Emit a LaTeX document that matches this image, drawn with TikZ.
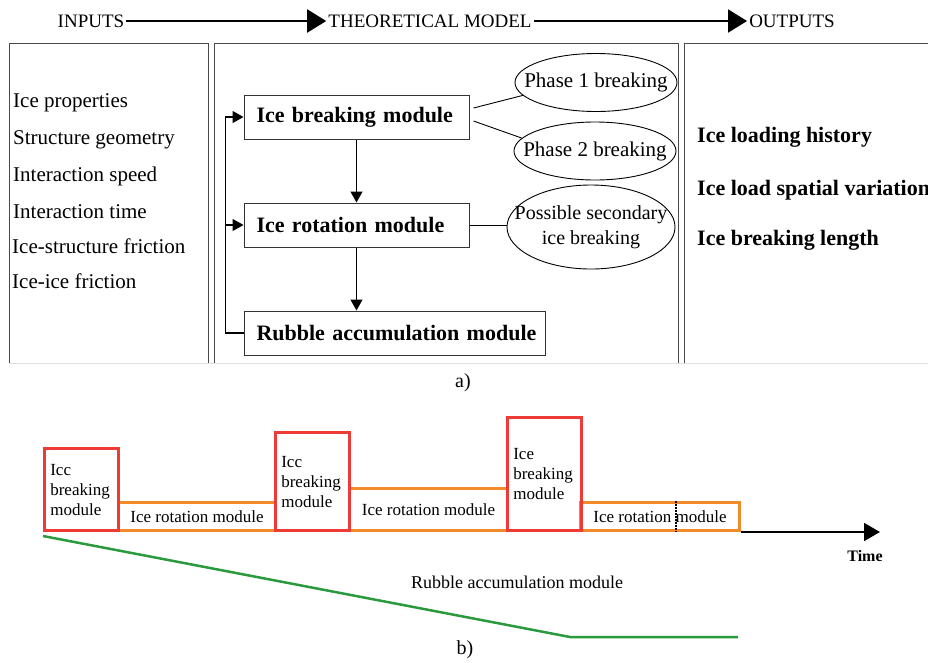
\documentclass[tikz,border=0pt]{standalone}
\usepackage{fontspec}
\setmainfont{Liberation Serif}
\usetikzlibrary{arrows.meta,shapes.geometric,calc}
\definecolor{brkred}{HTML}{EE3B36}
\definecolor{rotorange}{HTML}{F28A2A}
\definecolor{rubgreen}{HTML}{2A9A3C}
\definecolor{panelgray}{HTML}{4A4A4A}
% text of zero width, so that an ellipse is sized by its own dimensions
\newcommand\narrowtext[1]{\makebox[0pt]{#1}}

\begin{document}
\begin{tikzpicture}[x=1pt,y=-1pt,
  hdr/.style={font=\fontsize{19}{22}\selectfont, inner xsep=2pt, inner ysep=0pt},
  hdrarrow/.style={line width=2pt, -{Triangle[length=19pt,width=23pt]}},
  panel/.style={draw=panelgray, line width=1pt},
  inlabel/.style={anchor=west, inner sep=0pt, font=\fontsize{21}{24}\selectfont},
  outlabel/.style={anchor=west, inner sep=0pt, font=\fontsize{22}{25}\selectfont\bfseries},
  modbox/.style={draw=black!80, line width=1pt, minimum height=44pt, inner xsep=12.5pt,
    align=left, font=\fontsize{22}{25}\selectfont\bfseries},
  phase/.style={draw, ellipse, line width=0.9pt, inner sep=0pt,
    font=\fontsize{21}{25}\selectfont},
  flow/.style={line width=1.2pt, -{Triangle[length=11pt,width=12pt]}},
  link/.style={line width=0.9pt},
  brk/.style={draw=brkred, line width=2.6pt, inner xsep=6pt, text width=62pt,
    minimum width=74pt, align=left, anchor=south west,
    font=\fontsize{17}{20}\selectfont},
  rot/.style={draw=rotorange, line width=3pt, inner ysep=2pt, anchor=south west,
    font=\fontsize{17}{20}\selectfont},
  axis/.style={line width=1.8pt, -{Triangle[length=16pt,width=18pt]}},
  caption/.style={font=\fontsize{20}{24}\selectfont},
]
\useasboundingbox (0,0) rectangle (928,662);

% ---- header: inputs -> model -> outputs
\node[hdr] (hin)  at (91,21)  {INPUTS};
\node[hdr] (hmod) at (430,21) {THEORETICAL MODEL};
\node[hdr] (hout) at (792,21) {OUTPUTS};
\draw[hdrarrow] (hin) -- (hmod);
\draw[hdrarrow] (hmod) -- (hout);

% ---- three panels, open at the bottom
\draw[panel] (9,363) -- (9,43) -- (208,43) -- (208,363);
\draw[panel] (214,363) -- (214,43) -- (678,43) -- (678,363);
\draw[panel] (684,363) -- (684,43) -- (935,43);
\draw[black!12, line width=0.8pt] (9,363) -- (928,363);

% ---- inputs
\node[inlabel] (i1) at (13,103) {Ice properties};
\node[inlabel] (i2) at (13,140) {Structure geometry};
\node[inlabel] (i3) at (13,176) {Interaction speed};
\node[inlabel] (i4) at (13,212) {Interaction time};
\node[inlabel] (i5) at (12,246) {Ice-structure friction};
\node[inlabel] (i6) at (12,281) {Ice-ice friction};

% ---- theoretical model
\node[modbox, text width=200pt] (b1) at (356.5,117) {Ice breaking module};
\node[modbox, text width=200pt] (b2) at (356.5,225) {Ice rotation module};
\node[modbox, text width=276pt] (b3) at (394.5,333) {\mbox{Rubble accumulation module}};

\node[phase, minimum width=162pt, minimum height=58pt] (e1) at (596,82.5)
  {\narrowtext{Phase 1 breaking}};
\node[phase, minimum width=162pt, minimum height=58pt] (e2) at (595,151)
  {\narrowtext{Phase 2 breaking}};
\node[phase, minimum width=168pt, minimum height=84pt, font=\fontsize{20}{25}\selectfont]
  (e3) at (591,227)
  {\narrowtext{\begin{tabular}{@{}c@{}}Possible secondary\\ice breaking\end{tabular}}};

\draw[flow] (b1) -- (b2);
\draw[flow] (b2.south) -- (b2.south |- b3.north);
\draw[flow] (b3.west) -- ++(-18,0) coordinate (fb) |- (b1.west);
\draw[flow] (fb |- b2.west) -- (b2.west);

\draw[link] ([shift={(4,-9)}]b1.east) -- (e1.190);
\draw[link] ([shift={(4,4)}]b1.east) -- (e2.170);
\draw[link] (b2.east) -- (b2.east -| e3.west);

% ---- outputs
\node[outlabel] (o1) at (697,137) {Ice loading history};
\node[outlabel] (o2) at (697,190) {Ice load spatial variation};
\node[outlabel] (o3) at (697,240) {Ice breaking length};

\node[caption] (capa) at (463,383) {a)};

% ---- time sequence of the modules
\node[rot, minimum width=157pt, minimum height=28pt] (r1) at (117,532) {Ice rotation module};
\node[rot, minimum width=158pt, minimum height=42pt] (r2) at (348,532) {Ice rotation module};
\node[rot, minimum width=159pt, minimum height=28pt] (r3) at (579,532) {Ice rotation module};

\node[brk, minimum height=82pt]  (k1) at (43,532)  {Icc\\breaking\\module};
\node[brk, minimum height=98pt]  (k2) at (274,532) {Icc\\breaking\\module};
\node[brk, minimum height=113pt, minimum width=73pt] (k3) at (506,532) {Ice\\breaking\\module};

\draw[line width=1.5pt, dash pattern=on 1.5pt off 1.5pt]
  ($(r3.north west)!0.6!(r3.north east)$) -- ($(r3.south west)!0.6!(r3.south east)$);

\coordinate (tend) at (880,532);
\draw[axis] (r3.south east) -- (tend);
\node[font=\fontsize{16}{19}\selectfont\bfseries] (tlab) at (865,556) {Time};

% rubble accumulation profile
\coordinate (g0) at (43,536);
\coordinate (g1) at (570,637);
\coordinate (g2) at (738,637);
\draw[rubgreen, line width=2.5pt] (g0) -- (g1) -- (g2);
\node[font=\fontsize{18}{21}\selectfont] (rlab) at (517,582) {Rubble accumulation module};

\node[caption] (capb) at (465,650) {b)};
\end{tikzpicture}
\end{document}
